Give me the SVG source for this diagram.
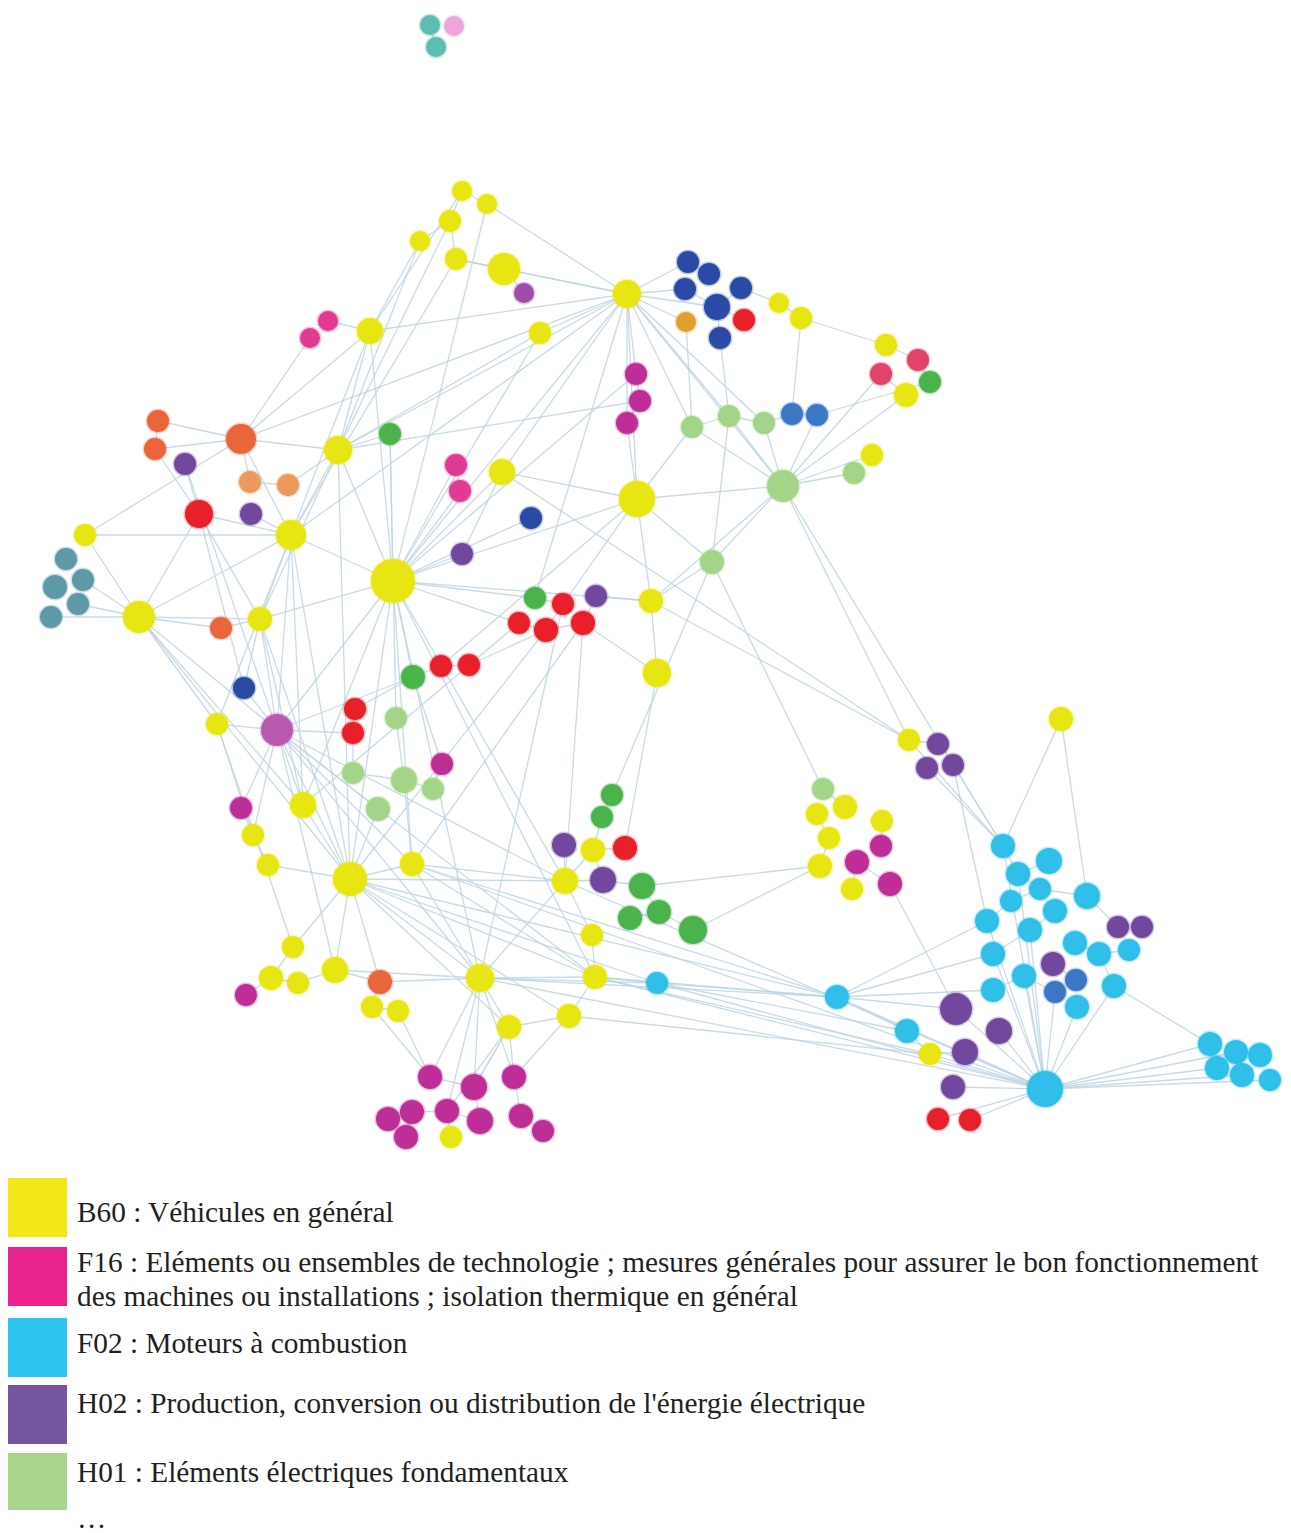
<svg xmlns="http://www.w3.org/2000/svg" width="1291" height="1533" viewBox="0 0 1291 1533">
<style>
.e{stroke:#bfd6e3;stroke-width:1.3;opacity:.85}
circle{stroke-width:3;stroke-opacity:.3}
.y{fill:#e8e612;stroke:#e8e612}
.m{fill:#bd2f96;stroke:#bd2f96}
.pk{fill:#e03a93;stroke:#e03a93}
.mL{fill:#b85aaf;stroke:#b85aaf}
.pm{fill:#9f4ea8;stroke:#9f4ea8}
.c{fill:#2fbfe8;stroke:#2fbfe8}
.p{fill:#72489e;stroke:#72489e}
.lg{fill:#a4d487;stroke:#a4d487}
.g{fill:#4bb34b;stroke:#4bb34b}
.r{fill:#e8202a;stroke:#e8202a}
.o{fill:#e8663a;stroke:#e8663a}
.ol{fill:#eb9a5c;stroke:#eb9a5c}
.ora{fill:#e0a030;stroke:#e0a030}
.db{fill:#2a4aa6;stroke:#2a4aa6}
.mb{fill:#3a78c6;stroke:#3a78c6}
.t{fill:#5e99a8;stroke:#5e99a8}
.tq{fill:#5dbdb0;stroke:#5dbdb0}
.lp{fill:#eaa8da;stroke:#eaa8da}
.pr{fill:#e2436a;stroke:#e2436a}
.lt{font-family:"Liberation Serif","Times New Roman",serif;font-size:29.3px;fill:#231f20}
</style>
<rect width="1291" height="1533" fill="#ffffff"/>
<g id="connectors">
<line class="e" x1="430" y1="25" x2="436" y2="47"/>
<line class="e" x1="462" y1="191" x2="487" y2="204"/>
<line class="e" x1="462" y1="191" x2="450" y2="221"/>
<line class="e" x1="487" y1="204" x2="627" y2="294"/>
<line class="e" x1="450" y1="221" x2="420" y2="241"/>
<line class="e" x1="450" y1="221" x2="456" y2="259"/>
<line class="e" x1="420" y1="241" x2="370" y2="331"/>
<line class="e" x1="456" y1="259" x2="504" y2="269"/>
<line class="e" x1="504" y1="269" x2="627" y2="294"/>
<line class="e" x1="456" y1="259" x2="627" y2="294"/>
<line class="e" x1="504" y1="269" x2="524" y2="293"/>
<line class="e" x1="420" y1="241" x2="338" y2="450"/>
<line class="e" x1="462" y1="191" x2="370" y2="331"/>
<line class="e" x1="450" y1="221" x2="338" y2="450"/>
<line class="e" x1="456" y1="259" x2="291" y2="535"/>
<line class="e" x1="487" y1="204" x2="393" y2="581"/>
<line class="e" x1="370" y1="331" x2="328" y2="321"/>
<line class="e" x1="370" y1="331" x2="627" y2="294"/>
<line class="e" x1="370" y1="331" x2="338" y2="450"/>
<line class="e" x1="370" y1="331" x2="241" y2="439"/>
<line class="e" x1="370" y1="331" x2="393" y2="581"/>
<line class="e" x1="370" y1="331" x2="291" y2="535"/>
<line class="e" x1="310" y1="338" x2="241" y2="439"/>
<line class="e" x1="540" y1="333" x2="627" y2="294"/>
<line class="e" x1="540" y1="333" x2="338" y2="450"/>
<line class="e" x1="540" y1="333" x2="393" y2="581"/>
<line class="e" x1="627" y1="294" x2="688" y2="262"/>
<line class="e" x1="627" y1="294" x2="685" y2="289"/>
<line class="e" x1="627" y1="294" x2="686" y2="322"/>
<line class="e" x1="627" y1="294" x2="717" y2="307"/>
<line class="e" x1="627" y1="294" x2="636" y2="374"/>
<line class="e" x1="627" y1="294" x2="627" y2="423"/>
<line class="e" x1="627" y1="294" x2="692" y2="427"/>
<line class="e" x1="627" y1="294" x2="729" y2="416"/>
<line class="e" x1="627" y1="294" x2="637" y2="499"/>
<line class="e" x1="627" y1="294" x2="783" y2="486"/>
<line class="e" x1="627" y1="294" x2="393" y2="581"/>
<line class="e" x1="627" y1="294" x2="338" y2="450"/>
<line class="e" x1="627" y1="294" x2="291" y2="535"/>
<line class="e" x1="627" y1="294" x2="502" y2="472"/>
<line class="e" x1="627" y1="294" x2="764" y2="423"/>
<line class="e" x1="627" y1="294" x2="535" y2="598"/>
<line class="e" x1="627" y1="294" x2="241" y2="439"/>
<line class="e" x1="709" y1="274" x2="688" y2="262"/>
<line class="e" x1="685" y1="289" x2="717" y2="307"/>
<line class="e" x1="741" y1="288" x2="717" y2="307"/>
<line class="e" x1="717" y1="307" x2="720" y2="338"/>
<line class="e" x1="744" y1="320" x2="717" y2="307"/>
<line class="e" x1="741" y1="288" x2="779" y2="303"/>
<line class="e" x1="779" y1="303" x2="801" y2="318"/>
<line class="e" x1="801" y1="318" x2="886" y2="345"/>
<line class="e" x1="801" y1="318" x2="792" y2="414"/>
<line class="e" x1="720" y1="338" x2="729" y2="416"/>
<line class="e" x1="686" y1="322" x2="692" y2="427"/>
<line class="e" x1="886" y1="345" x2="918" y2="360"/>
<line class="e" x1="881" y1="374" x2="906" y2="395"/>
<line class="e" x1="918" y1="360" x2="930" y2="382"/>
<line class="e" x1="906" y1="395" x2="783" y2="486"/>
<line class="e" x1="881" y1="374" x2="783" y2="486"/>
<line class="e" x1="930" y1="382" x2="817" y2="415"/>
<line class="e" x1="636" y1="374" x2="640" y2="401"/>
<line class="e" x1="640" y1="401" x2="627" y2="423"/>
<line class="e" x1="627" y1="423" x2="637" y2="499"/>
<line class="e" x1="640" y1="401" x2="338" y2="450"/>
<line class="e" x1="636" y1="374" x2="393" y2="581"/>
<line class="e" x1="692" y1="427" x2="729" y2="416"/>
<line class="e" x1="729" y1="416" x2="764" y2="423"/>
<line class="e" x1="764" y1="423" x2="792" y2="414"/>
<line class="e" x1="792" y1="414" x2="817" y2="415"/>
<line class="e" x1="692" y1="427" x2="783" y2="486"/>
<line class="e" x1="729" y1="416" x2="783" y2="486"/>
<line class="e" x1="764" y1="423" x2="783" y2="486"/>
<line class="e" x1="817" y1="415" x2="783" y2="486"/>
<line class="e" x1="872" y1="455" x2="783" y2="486"/>
<line class="e" x1="854" y1="473" x2="783" y2="486"/>
<line class="e" x1="729" y1="416" x2="712" y2="562"/>
<line class="e" x1="692" y1="427" x2="637" y2="499"/>
<line class="e" x1="783" y1="486" x2="637" y2="499"/>
<line class="e" x1="783" y1="486" x2="712" y2="562"/>
<line class="e" x1="783" y1="486" x2="909" y2="740"/>
<line class="e" x1="783" y1="486" x2="1003" y2="846"/>
<line class="e" x1="783" y1="486" x2="651" y2="601"/>
<line class="e" x1="712" y1="562" x2="651" y2="601"/>
<line class="e" x1="712" y1="562" x2="637" y2="499"/>
<line class="e" x1="712" y1="562" x2="612" y2="795"/>
<line class="e" x1="712" y1="562" x2="823" y2="789"/>
<line class="e" x1="637" y1="499" x2="651" y2="601"/>
<line class="e" x1="637" y1="499" x2="563" y2="604"/>
<line class="e" x1="637" y1="499" x2="393" y2="581"/>
<line class="e" x1="637" y1="499" x2="441" y2="666"/>
<line class="e" x1="637" y1="499" x2="502" y2="472"/>
<line class="e" x1="651" y1="601" x2="596" y2="596"/>
<line class="e" x1="651" y1="601" x2="657" y2="673"/>
<line class="e" x1="651" y1="601" x2="909" y2="740"/>
<line class="e" x1="651" y1="601" x2="393" y2="581"/>
<line class="e" x1="657" y1="673" x2="583" y2="623"/>
<line class="e" x1="657" y1="673" x2="625" y2="848"/>
<line class="e" x1="502" y1="472" x2="909" y2="740"/>
<line class="e" x1="1061" y1="719" x2="1003" y2="846"/>
<line class="e" x1="1061" y1="719" x2="1087" y2="896"/>
<line class="e" x1="909" y1="740" x2="938" y2="744"/>
<line class="e" x1="927" y1="768" x2="1003" y2="846"/>
<line class="e" x1="953" y1="765" x2="1003" y2="846"/>
<line class="e" x1="158" y1="421" x2="155" y2="449"/>
<line class="e" x1="155" y1="449" x2="241" y2="439"/>
<line class="e" x1="241" y1="439" x2="338" y2="450"/>
<line class="e" x1="241" y1="439" x2="291" y2="535"/>
<line class="e" x1="241" y1="439" x2="250" y2="482"/>
<line class="e" x1="185" y1="464" x2="199" y2="514"/>
<line class="e" x1="155" y1="449" x2="199" y2="514"/>
<line class="e" x1="158" y1="421" x2="241" y2="439"/>
<line class="e" x1="250" y1="482" x2="288" y2="485"/>
<line class="e" x1="288" y1="485" x2="338" y2="450"/>
<line class="e" x1="199" y1="514" x2="291" y2="535"/>
<line class="e" x1="251" y1="514" x2="291" y2="535"/>
<line class="e" x1="199" y1="514" x2="260" y2="619"/>
<line class="e" x1="199" y1="514" x2="244" y2="688"/>
<line class="e" x1="185" y1="464" x2="277" y2="730"/>
<line class="e" x1="338" y1="450" x2="390" y2="434"/>
<line class="e" x1="338" y1="450" x2="291" y2="535"/>
<line class="e" x1="338" y1="450" x2="393" y2="581"/>
<line class="e" x1="338" y1="450" x2="260" y2="619"/>
<line class="e" x1="338" y1="450" x2="350" y2="879"/>
<line class="e" x1="390" y1="434" x2="393" y2="581"/>
<line class="e" x1="390" y1="434" x2="396" y2="718"/>
<line class="e" x1="85" y1="535" x2="139" y2="617"/>
<line class="e" x1="85" y1="535" x2="291" y2="535"/>
<line class="e" x1="85" y1="535" x2="241" y2="439"/>
<line class="e" x1="83" y1="580" x2="139" y2="617"/>
<line class="e" x1="78" y1="604" x2="139" y2="617"/>
<line class="e" x1="51" y1="617" x2="139" y2="617"/>
<line class="e" x1="139" y1="617" x2="221" y2="628"/>
<line class="e" x1="139" y1="617" x2="260" y2="619"/>
<line class="e" x1="139" y1="617" x2="291" y2="535"/>
<line class="e" x1="139" y1="617" x2="217" y2="724"/>
<line class="e" x1="139" y1="617" x2="277" y2="730"/>
<line class="e" x1="139" y1="617" x2="303" y2="805"/>
<line class="e" x1="139" y1="617" x2="350" y2="879"/>
<line class="e" x1="139" y1="617" x2="199" y2="514"/>
<line class="e" x1="221" y1="628" x2="260" y2="619"/>
<line class="e" x1="260" y1="619" x2="291" y2="535"/>
<line class="e" x1="260" y1="619" x2="393" y2="581"/>
<line class="e" x1="260" y1="619" x2="277" y2="730"/>
<line class="e" x1="260" y1="619" x2="350" y2="879"/>
<line class="e" x1="260" y1="619" x2="244" y2="688"/>
<line class="e" x1="260" y1="619" x2="303" y2="805"/>
<line class="e" x1="291" y1="535" x2="393" y2="581"/>
<line class="e" x1="291" y1="535" x2="277" y2="730"/>
<line class="e" x1="291" y1="535" x2="303" y2="805"/>
<line class="e" x1="291" y1="535" x2="350" y2="879"/>
<line class="e" x1="291" y1="535" x2="217" y2="724"/>
<line class="e" x1="393" y1="581" x2="456" y2="465"/>
<line class="e" x1="393" y1="581" x2="462" y2="554"/>
<line class="e" x1="393" y1="581" x2="535" y2="598"/>
<line class="e" x1="393" y1="581" x2="519" y2="623"/>
<line class="e" x1="393" y1="581" x2="413" y2="677"/>
<line class="e" x1="393" y1="581" x2="350" y2="879"/>
<line class="e" x1="393" y1="581" x2="480" y2="978"/>
<line class="e" x1="393" y1="581" x2="565" y2="881"/>
<line class="e" x1="393" y1="581" x2="277" y2="730"/>
<line class="e" x1="393" y1="581" x2="303" y2="805"/>
<line class="e" x1="393" y1="581" x2="412" y2="864"/>
<line class="e" x1="393" y1="581" x2="502" y2="472"/>
<line class="e" x1="393" y1="581" x2="531" y2="518"/>
<line class="e" x1="393" y1="581" x2="595" y2="977"/>
<line class="e" x1="456" y1="465" x2="460" y2="491"/>
<line class="e" x1="460" y1="491" x2="393" y2="581"/>
<line class="e" x1="502" y1="472" x2="462" y2="554"/>
<line class="e" x1="535" y1="598" x2="563" y2="604"/>
<line class="e" x1="563" y1="604" x2="546" y2="630"/>
<line class="e" x1="519" y1="623" x2="546" y2="630"/>
<line class="e" x1="546" y1="630" x2="583" y2="623"/>
<line class="e" x1="583" y1="623" x2="596" y2="596"/>
<line class="e" x1="441" y1="666" x2="469" y2="665"/>
<line class="e" x1="413" y1="677" x2="441" y2="666"/>
<line class="e" x1="469" y1="665" x2="546" y2="630"/>
<line class="e" x1="546" y1="630" x2="350" y2="879"/>
<line class="e" x1="583" y1="623" x2="412" y2="864"/>
<line class="e" x1="519" y1="623" x2="303" y2="805"/>
<line class="e" x1="563" y1="604" x2="480" y2="978"/>
<line class="e" x1="583" y1="623" x2="565" y2="881"/>
<line class="e" x1="413" y1="677" x2="355" y2="709"/>
<line class="e" x1="355" y1="709" x2="353" y2="733"/>
<line class="e" x1="353" y1="733" x2="277" y2="730"/>
<line class="e" x1="396" y1="718" x2="404" y2="780"/>
<line class="e" x1="353" y1="733" x2="353" y2="773"/>
<line class="e" x1="244" y1="688" x2="277" y2="730"/>
<line class="e" x1="217" y1="724" x2="277" y2="730"/>
<line class="e" x1="277" y1="730" x2="303" y2="805"/>
<line class="e" x1="277" y1="730" x2="350" y2="879"/>
<line class="e" x1="277" y1="730" x2="412" y2="864"/>
<line class="e" x1="277" y1="730" x2="480" y2="978"/>
<line class="e" x1="277" y1="730" x2="565" y2="881"/>
<line class="e" x1="277" y1="730" x2="378" y2="809"/>
<line class="e" x1="277" y1="730" x2="241" y2="808"/>
<line class="e" x1="277" y1="730" x2="253" y2="835"/>
<line class="e" x1="277" y1="730" x2="595" y2="977"/>
<line class="e" x1="277" y1="730" x2="335" y2="970"/>
<line class="e" x1="277" y1="730" x2="413" y2="677"/>
<line class="e" x1="353" y1="773" x2="404" y2="780"/>
<line class="e" x1="404" y1="780" x2="433" y2="789"/>
<line class="e" x1="378" y1="809" x2="350" y2="879"/>
<line class="e" x1="404" y1="780" x2="412" y2="864"/>
<line class="e" x1="442" y1="764" x2="433" y2="789"/>
<line class="e" x1="442" y1="764" x2="413" y2="677"/>
<line class="e" x1="241" y1="808" x2="253" y2="835"/>
<line class="e" x1="253" y1="835" x2="268" y2="865"/>
<line class="e" x1="268" y1="865" x2="350" y2="879"/>
<line class="e" x1="303" y1="805" x2="350" y2="879"/>
<line class="e" x1="217" y1="724" x2="253" y2="835"/>
<line class="e" x1="217" y1="724" x2="293" y2="947"/>
<line class="e" x1="350" y1="879" x2="412" y2="864"/>
<line class="e" x1="350" y1="879" x2="480" y2="978"/>
<line class="e" x1="350" y1="879" x2="293" y2="947"/>
<line class="e" x1="350" y1="879" x2="335" y2="970"/>
<line class="e" x1="350" y1="879" x2="565" y2="881"/>
<line class="e" x1="350" y1="879" x2="595" y2="977"/>
<line class="e" x1="350" y1="879" x2="657" y2="983"/>
<line class="e" x1="350" y1="879" x2="837" y2="997"/>
<line class="e" x1="350" y1="879" x2="380" y2="982"/>
<line class="e" x1="350" y1="879" x2="509" y2="1027"/>
<line class="e" x1="350" y1="879" x2="569" y2="1016"/>
<line class="e" x1="412" y1="864" x2="565" y2="881"/>
<line class="e" x1="412" y1="864" x2="480" y2="978"/>
<line class="e" x1="412" y1="864" x2="595" y2="977"/>
<line class="e" x1="412" y1="864" x2="837" y2="997"/>
<line class="e" x1="412" y1="864" x2="1045" y2="1089"/>
<line class="e" x1="293" y1="947" x2="271" y2="978"/>
<line class="e" x1="271" y1="978" x2="298" y2="983"/>
<line class="e" x1="246" y1="995" x2="271" y2="978"/>
<line class="e" x1="298" y1="983" x2="335" y2="970"/>
<line class="e" x1="335" y1="970" x2="380" y2="982"/>
<line class="e" x1="380" y1="982" x2="372" y2="1007"/>
<line class="e" x1="372" y1="1007" x2="398" y2="1011"/>
<line class="e" x1="335" y1="970" x2="480" y2="978"/>
<line class="e" x1="380" y1="982" x2="480" y2="978"/>
<line class="e" x1="480" y1="978" x2="509" y2="1027"/>
<line class="e" x1="480" y1="978" x2="595" y2="977"/>
<line class="e" x1="480" y1="978" x2="565" y2="881"/>
<line class="e" x1="480" y1="978" x2="474" y2="1087"/>
<line class="e" x1="480" y1="978" x2="447" y2="1111"/>
<line class="e" x1="480" y1="978" x2="430" y2="1077"/>
<line class="e" x1="480" y1="978" x2="514" y2="1077"/>
<line class="e" x1="480" y1="978" x2="657" y2="983"/>
<line class="e" x1="480" y1="978" x2="837" y2="997"/>
<line class="e" x1="480" y1="978" x2="1045" y2="1089"/>
<line class="e" x1="509" y1="1027" x2="569" y2="1016"/>
<line class="e" x1="509" y1="1027" x2="474" y2="1087"/>
<line class="e" x1="569" y1="1016" x2="595" y2="977"/>
<line class="e" x1="569" y1="1016" x2="514" y2="1077"/>
<line class="e" x1="569" y1="1016" x2="930" y2="1054"/>
<line class="e" x1="398" y1="1011" x2="430" y2="1077"/>
<line class="e" x1="595" y1="977" x2="592" y2="935"/>
<line class="e" x1="592" y1="935" x2="565" y2="881"/>
<line class="e" x1="595" y1="977" x2="657" y2="983"/>
<line class="e" x1="595" y1="977" x2="837" y2="997"/>
<line class="e" x1="595" y1="977" x2="1045" y2="1089"/>
<line class="e" x1="595" y1="977" x2="930" y2="1054"/>
<line class="e" x1="565" y1="881" x2="593" y2="850"/>
<line class="e" x1="565" y1="881" x2="564" y2="845"/>
<line class="e" x1="565" y1="881" x2="603" y2="880"/>
<line class="e" x1="565" y1="881" x2="1045" y2="1089"/>
<line class="e" x1="593" y1="850" x2="625" y2="848"/>
<line class="e" x1="593" y1="850" x2="603" y2="880"/>
<line class="e" x1="603" y1="880" x2="642" y2="886"/>
<line class="e" x1="642" y1="886" x2="659" y2="912"/>
<line class="e" x1="630" y1="918" x2="659" y2="912"/>
<line class="e" x1="659" y1="912" x2="693" y2="930"/>
<line class="e" x1="612" y1="795" x2="602" y2="817"/>
<line class="e" x1="602" y1="817" x2="593" y2="850"/>
<line class="e" x1="642" y1="886" x2="820" y2="866"/>
<line class="e" x1="693" y1="930" x2="820" y2="866"/>
<line class="e" x1="657" y1="983" x2="837" y2="997"/>
<line class="e" x1="657" y1="983" x2="907" y2="1031"/>
<line class="e" x1="657" y1="983" x2="1045" y2="1089"/>
<line class="e" x1="837" y1="997" x2="993" y2="990"/>
<line class="e" x1="837" y1="997" x2="987" y2="921"/>
<line class="e" x1="837" y1="997" x2="907" y2="1031"/>
<line class="e" x1="837" y1="997" x2="1045" y2="1089"/>
<line class="e" x1="837" y1="997" x2="956" y2="1009"/>
<line class="e" x1="837" y1="997" x2="993" y2="954"/>
<line class="e" x1="890" y1="884" x2="956" y2="1009"/>
<line class="e" x1="907" y1="1031" x2="930" y2="1054"/>
<line class="e" x1="930" y1="1054" x2="965" y2="1052"/>
<line class="e" x1="930" y1="1054" x2="1045" y2="1089"/>
<line class="e" x1="956" y1="1009" x2="1045" y2="1089"/>
<line class="e" x1="999" y1="1031" x2="1045" y2="1089"/>
<line class="e" x1="965" y1="1052" x2="1045" y2="1089"/>
<line class="e" x1="953" y1="1087" x2="1045" y2="1089"/>
<line class="e" x1="938" y1="1119" x2="1045" y2="1089"/>
<line class="e" x1="970" y1="1120" x2="1045" y2="1089"/>
<line class="e" x1="1045" y1="1089" x2="1003" y2="846"/>
<line class="e" x1="1045" y1="1089" x2="1018" y2="874"/>
<line class="e" x1="1045" y1="1089" x2="987" y2="921"/>
<line class="e" x1="1045" y1="1089" x2="993" y2="954"/>
<line class="e" x1="1045" y1="1089" x2="1024" y2="976"/>
<line class="e" x1="1045" y1="1089" x2="1055" y2="992"/>
<line class="e" x1="1045" y1="1089" x2="1077" y2="1007"/>
<line class="e" x1="1045" y1="1089" x2="1030" y2="930"/>
<line class="e" x1="1045" y1="1089" x2="1210" y2="1044"/>
<line class="e" x1="1045" y1="1089" x2="1217" y2="1068"/>
<line class="e" x1="1045" y1="1089" x2="1242" y2="1075"/>
<line class="e" x1="1045" y1="1089" x2="1270" y2="1080"/>
<line class="e" x1="1045" y1="1089" x2="1236" y2="1052"/>
<line class="e" x1="1045" y1="1089" x2="1114" y2="986"/>
<line class="e" x1="1114" y1="986" x2="1210" y2="1044"/>
<line class="e" x1="1003" y1="846" x2="1018" y2="874"/>
<line class="e" x1="1049" y1="861" x2="1018" y2="874"/>
<line class="e" x1="1018" y1="874" x2="1040" y2="889"/>
<line class="e" x1="1040" y1="889" x2="1087" y2="896"/>
<line class="e" x1="1011" y1="901" x2="1040" y2="889"/>
<line class="e" x1="1011" y1="901" x2="987" y2="921"/>
<line class="e" x1="1055" y1="911" x2="1030" y2="930"/>
<line class="e" x1="1030" y1="930" x2="993" y2="954"/>
<line class="e" x1="1075" y1="943" x2="1099" y2="954"/>
<line class="e" x1="1099" y1="954" x2="1129" y2="950"/>
<line class="e" x1="1053" y1="964" x2="1076" y2="980"/>
<line class="e" x1="1024" y1="976" x2="1055" y2="992"/>
<line class="e" x1="993" y1="990" x2="1024" y2="976"/>
<line class="e" x1="1114" y1="986" x2="1099" y2="954"/>
<line class="e" x1="1087" y1="896" x2="1118" y2="927"/>
<line class="e" x1="909" y1="740" x2="1003" y2="846"/>
<line class="e" x1="953" y1="765" x2="987" y2="921"/>
<line class="e" x1="823" y1="789" x2="845" y2="807"/>
<line class="e" x1="817" y1="814" x2="829" y2="838"/>
<line class="e" x1="829" y1="838" x2="820" y2="866"/>
<line class="e" x1="882" y1="821" x2="881" y2="846"/>
<line class="e" x1="857" y1="862" x2="852" y2="889"/>
<line class="e" x1="857" y1="862" x2="890" y2="884"/>
<line class="e" x1="430" y1="1077" x2="474" y2="1087"/>
<line class="e" x1="388" y1="1119" x2="412" y2="1112"/>
<line class="e" x1="412" y1="1112" x2="406" y2="1137"/>
<line class="e" x1="447" y1="1111" x2="480" y2="1121"/>
<line class="e" x1="474" y1="1087" x2="480" y2="1121"/>
<line class="e" x1="514" y1="1077" x2="521" y2="1116"/>
<line class="e" x1="521" y1="1116" x2="543" y2="1131"/>
<line class="e" x1="451" y1="1137" x2="447" y2="1111"/>
<line class="e" x1="430" y1="1077" x2="372" y2="1007"/>
<line class="e" x1="474" y1="1087" x2="509" y2="1027"/>
<line class="e" x1="447" y1="1111" x2="509" y2="1027"/>
<line class="e" x1="514" y1="1077" x2="509" y2="1027"/>
<line class="e" x1="412" y1="1112" x2="447" y2="1111"/>
</g>
<g id="nodes">
<g id="n1"><circle class="tq" cx="430" cy="25" r="10"/></g>
<g id="n2"><circle class="lp" cx="454" cy="26" r="10"/></g>
<g id="n3"><circle class="tq" cx="436" cy="47" r="10"/></g>
<g id="n4"><circle class="y" cx="462" cy="191" r="10"/></g>
<g id="n5"><circle class="y" cx="487" cy="204" r="10"/></g>
<g id="n6"><circle class="y" cx="450" cy="221" r="11"/></g>
<g id="n7"><circle class="y" cx="420" cy="241" r="10"/></g>
<g id="n8"><circle class="y" cx="456" cy="259" r="11"/></g>
<g id="n9"><circle class="y" cx="504" cy="269" r="16"/></g>
<g id="n10"><circle class="pm" cx="524" cy="293" r="10"/></g>
<g id="n11"><circle class="y" cx="540" cy="333" r="11"/></g>
<g id="n12"><circle class="y" cx="370" cy="331" r="13"/></g>
<g id="n13"><circle class="pk" cx="328" cy="321" r="10"/></g>
<g id="n14"><circle class="pk" cx="310" cy="338" r="10"/></g>
<g id="n15"><circle class="y" cx="627" cy="294" r="14"/></g>
<g id="n16"><circle class="db" cx="688" cy="262" r="11"/></g>
<g id="n17"><circle class="db" cx="709" cy="274" r="11"/></g>
<g id="n18"><circle class="db" cx="685" cy="289" r="11"/></g>
<g id="n19"><circle class="db" cx="741" cy="288" r="11"/></g>
<g id="n20"><circle class="db" cx="717" cy="307" r="13"/></g>
<g id="n21"><circle class="db" cx="720" cy="338" r="11"/></g>
<g id="n22"><circle class="ora" cx="686" cy="322" r="10"/></g>
<g id="n23"><circle class="r" cx="744" cy="320" r="11"/></g>
<g id="n24"><circle class="y" cx="779" cy="303" r="10"/></g>
<g id="n25"><circle class="y" cx="801" cy="318" r="11"/></g>
<g id="n26"><circle class="y" cx="886" cy="345" r="11"/></g>
<g id="n27"><circle class="pr" cx="918" cy="360" r="11"/></g>
<g id="n28"><circle class="pr" cx="881" cy="374" r="11"/></g>
<g id="n29"><circle class="g" cx="930" cy="382" r="11"/></g>
<g id="n30"><circle class="y" cx="906" cy="395" r="12"/></g>
<g id="n31"><circle class="m" cx="636" cy="374" r="11"/></g>
<g id="n32"><circle class="m" cx="640" cy="401" r="11"/></g>
<g id="n33"><circle class="m" cx="627" cy="423" r="11"/></g>
<g id="n34"><circle class="lg" cx="692" cy="427" r="11"/></g>
<g id="n35"><circle class="lg" cx="729" cy="416" r="11"/></g>
<g id="n36"><circle class="lg" cx="764" cy="423" r="11"/></g>
<g id="n37"><circle class="mb" cx="792" cy="414" r="11"/></g>
<g id="n38"><circle class="mb" cx="817" cy="415" r="11"/></g>
<g id="n39"><circle class="y" cx="872" cy="455" r="11"/></g>
<g id="n40"><circle class="lg" cx="854" cy="473" r="11"/></g>
<g id="n41"><circle class="lg" cx="783" cy="486" r="16"/></g>
<g id="n42"><circle class="y" cx="637" cy="499" r="18"/></g>
<g id="n43"><circle class="lg" cx="712" cy="562" r="12"/></g>
<g id="n44"><circle class="y" cx="651" cy="601" r="12"/></g>
<g id="n45"><circle class="y" cx="657" cy="673" r="14"/></g>
<g id="n46"><circle class="o" cx="158" cy="421" r="11"/></g>
<g id="n47"><circle class="o" cx="155" cy="449" r="11"/></g>
<g id="n48"><circle class="o" cx="241" cy="439" r="15"/></g>
<g id="n49"><circle class="p" cx="185" cy="464" r="11"/></g>
<g id="n50"><circle class="ol" cx="250" cy="482" r="11"/></g>
<g id="n51"><circle class="ol" cx="288" cy="485" r="11"/></g>
<g id="n52"><circle class="y" cx="338" cy="450" r="14"/></g>
<g id="n53"><circle class="g" cx="390" cy="434" r="11"/></g>
<g id="n54"><circle class="r" cx="199" cy="514" r="14"/></g>
<g id="n55"><circle class="p" cx="251" cy="514" r="11"/></g>
<g id="n56"><circle class="y" cx="291" cy="535" r="15"/></g>
<g id="n57"><circle class="y" cx="85" cy="535" r="11"/></g>
<g id="n58"><circle class="t" cx="66" cy="559" r="11"/></g>
<g id="n59"><circle class="t" cx="83" cy="580" r="11"/></g>
<g id="n60"><circle class="t" cx="55" cy="587" r="12"/></g>
<g id="n61"><circle class="t" cx="78" cy="604" r="11"/></g>
<g id="n62"><circle class="t" cx="51" cy="617" r="11"/></g>
<g id="n63"><circle class="y" cx="139" cy="617" r="16"/></g>
<g id="n64"><circle class="o" cx="221" cy="628" r="11"/></g>
<g id="n65"><circle class="y" cx="260" cy="619" r="12"/></g>
<g id="n66"><circle class="y" cx="393" cy="581" r="22"/></g>
<g id="n67"><circle class="pk" cx="456" cy="465" r="11"/></g>
<g id="n68"><circle class="pk" cx="460" cy="491" r="11"/></g>
<g id="n69"><circle class="y" cx="502" cy="472" r="13"/></g>
<g id="n70"><circle class="db" cx="531" cy="518" r="11"/></g>
<g id="n71"><circle class="p" cx="462" cy="554" r="11"/></g>
<g id="n72"><circle class="g" cx="535" cy="598" r="11"/></g>
<g id="n73"><circle class="r" cx="563" cy="604" r="11"/></g>
<g id="n74"><circle class="p" cx="596" cy="596" r="11"/></g>
<g id="n75"><circle class="r" cx="519" cy="623" r="11"/></g>
<g id="n76"><circle class="r" cx="546" cy="630" r="12"/></g>
<g id="n77"><circle class="r" cx="583" cy="623" r="12"/></g>
<g id="n78"><circle class="g" cx="413" cy="677" r="12"/></g>
<g id="n79"><circle class="r" cx="441" cy="666" r="11"/></g>
<g id="n80"><circle class="r" cx="469" cy="665" r="11"/></g>
<g id="n81"><circle class="db" cx="244" cy="688" r="11"/></g>
<g id="n82"><circle class="y" cx="217" cy="724" r="11"/></g>
<g id="n83"><circle class="mL" cx="277" cy="730" r="16"/></g>
<g id="n84"><circle class="r" cx="355" cy="709" r="11"/></g>
<g id="n85"><circle class="r" cx="353" cy="733" r="11"/></g>
<g id="n86"><circle class="lg" cx="396" cy="718" r="11"/></g>
<g id="n87"><circle class="lg" cx="353" cy="773" r="11"/></g>
<g id="n88"><circle class="lg" cx="404" cy="780" r="13"/></g>
<g id="n89"><circle class="lg" cx="433" cy="789" r="11"/></g>
<g id="n90"><circle class="lg" cx="378" cy="809" r="12"/></g>
<g id="n91"><circle class="m" cx="442" cy="764" r="11"/></g>
<g id="n92"><circle class="m" cx="241" cy="808" r="11"/></g>
<g id="n93"><circle class="y" cx="303" cy="805" r="13"/></g>
<g id="n94"><circle class="y" cx="253" cy="835" r="11"/></g>
<g id="n95"><circle class="y" cx="268" cy="865" r="11"/></g>
<g id="n96"><circle class="y" cx="350" cy="879" r="17"/></g>
<g id="n97"><circle class="y" cx="412" cy="864" r="12"/></g>
<g id="n98"><circle class="y" cx="293" cy="947" r="11"/></g>
<g id="n99"><circle class="y" cx="271" cy="978" r="12"/></g>
<g id="n100"><circle class="y" cx="298" cy="983" r="11"/></g>
<g id="n101"><circle class="m" cx="246" cy="995" r="11"/></g>
<g id="n102"><circle class="y" cx="335" cy="970" r="13"/></g>
<g id="n103"><circle class="o" cx="380" cy="982" r="12"/></g>
<g id="n104"><circle class="y" cx="372" cy="1007" r="11"/></g>
<g id="n105"><circle class="y" cx="398" cy="1011" r="11"/></g>
<g id="n106"><circle class="y" cx="480" cy="978" r="14"/></g>
<g id="n107"><circle class="y" cx="509" cy="1027" r="12"/></g>
<g id="n108"><circle class="y" cx="569" cy="1016" r="12"/></g>
<g id="n109"><circle class="y" cx="595" cy="977" r="12"/></g>
<g id="n110"><circle class="y" cx="592" cy="935" r="11"/></g>
<g id="n111"><circle class="y" cx="565" cy="881" r="13"/></g>
<g id="n112"><circle class="m" cx="430" cy="1077" r="12"/></g>
<g id="n113"><circle class="m" cx="474" cy="1087" r="13"/></g>
<g id="n114"><circle class="m" cx="514" cy="1077" r="12"/></g>
<g id="n115"><circle class="m" cx="388" cy="1119" r="12"/></g>
<g id="n116"><circle class="m" cx="412" cy="1112" r="12"/></g>
<g id="n117"><circle class="m" cx="447" cy="1111" r="12"/></g>
<g id="n118"><circle class="m" cx="480" cy="1121" r="13"/></g>
<g id="n119"><circle class="m" cx="521" cy="1116" r="12"/></g>
<g id="n120"><circle class="m" cx="543" cy="1131" r="11"/></g>
<g id="n121"><circle class="m" cx="406" cy="1137" r="12"/></g>
<g id="n122"><circle class="y" cx="451" cy="1137" r="11"/></g>
<g id="n123"><circle class="g" cx="612" cy="795" r="11"/></g>
<g id="n124"><circle class="g" cx="602" cy="817" r="11"/></g>
<g id="n125"><circle class="p" cx="564" cy="845" r="12"/></g>
<g id="n126"><circle class="y" cx="593" cy="850" r="12"/></g>
<g id="n127"><circle class="r" cx="625" cy="848" r="12"/></g>
<g id="n128"><circle class="p" cx="603" cy="880" r="13"/></g>
<g id="n129"><circle class="g" cx="642" cy="886" r="13"/></g>
<g id="n130"><circle class="g" cx="630" cy="918" r="12"/></g>
<g id="n131"><circle class="g" cx="659" cy="912" r="12"/></g>
<g id="n132"><circle class="g" cx="693" cy="930" r="14"/></g>
<g id="n133"><circle class="c" cx="657" cy="983" r="11"/></g>
<g id="n134"><circle class="lg" cx="823" cy="789" r="11"/></g>
<g id="n135"><circle class="y" cx="845" cy="807" r="12"/></g>
<g id="n136"><circle class="y" cx="817" cy="814" r="11"/></g>
<g id="n137"><circle class="y" cx="882" cy="821" r="11"/></g>
<g id="n138"><circle class="y" cx="829" cy="838" r="11"/></g>
<g id="n139"><circle class="m" cx="881" cy="846" r="11"/></g>
<g id="n140"><circle class="m" cx="857" cy="862" r="12"/></g>
<g id="n141"><circle class="y" cx="820" cy="866" r="12"/></g>
<g id="n142"><circle class="y" cx="852" cy="889" r="11"/></g>
<g id="n143"><circle class="m" cx="890" cy="884" r="12"/></g>
<g id="n144"><circle class="y" cx="1061" cy="719" r="12"/></g>
<g id="n145"><circle class="y" cx="909" cy="740" r="11"/></g>
<g id="n146"><circle class="p" cx="938" cy="744" r="11"/></g>
<g id="n147"><circle class="p" cx="927" cy="768" r="11"/></g>
<g id="n148"><circle class="p" cx="953" cy="765" r="11"/></g>
<g id="n149"><circle class="c" cx="1003" cy="846" r="12"/></g>
<g id="n150"><circle class="c" cx="1049" cy="861" r="13"/></g>
<g id="n151"><circle class="c" cx="1018" cy="874" r="12"/></g>
<g id="n152"><circle class="c" cx="1040" cy="889" r="11"/></g>
<g id="n153"><circle class="c" cx="1087" cy="896" r="13"/></g>
<g id="n154"><circle class="c" cx="1011" cy="901" r="11"/></g>
<g id="n155"><circle class="c" cx="987" cy="921" r="12"/></g>
<g id="n156"><circle class="c" cx="1055" cy="911" r="12"/></g>
<g id="n157"><circle class="c" cx="1030" cy="930" r="12"/></g>
<g id="n158"><circle class="p" cx="1118" cy="927" r="11"/></g>
<g id="n159"><circle class="p" cx="1142" cy="927" r="11"/></g>
<g id="n160"><circle class="c" cx="993" cy="954" r="12"/></g>
<g id="n161"><circle class="c" cx="1075" cy="943" r="12"/></g>
<g id="n162"><circle class="c" cx="1099" cy="954" r="12"/></g>
<g id="n163"><circle class="c" cx="1129" cy="950" r="11"/></g>
<g id="n164"><circle class="p" cx="1053" cy="964" r="12"/></g>
<g id="n165"><circle class="c" cx="1024" cy="976" r="12"/></g>
<g id="n166"><circle class="mb" cx="1076" cy="980" r="11"/></g>
<g id="n167"><circle class="mb" cx="1055" cy="992" r="11"/></g>
<g id="n168"><circle class="c" cx="993" cy="990" r="12"/></g>
<g id="n169"><circle class="c" cx="1114" cy="986" r="12"/></g>
<g id="n170"><circle class="c" cx="1077" cy="1007" r="12"/></g>
<g id="n171"><circle class="c" cx="837" cy="997" r="12"/></g>
<g id="n172"><circle class="p" cx="956" cy="1009" r="16"/></g>
<g id="n173"><circle class="p" cx="999" cy="1031" r="13"/></g>
<g id="n174"><circle class="c" cx="907" cy="1031" r="12"/></g>
<g id="n175"><circle class="y" cx="930" cy="1054" r="11"/></g>
<g id="n176"><circle class="p" cx="965" cy="1052" r="13"/></g>
<g id="n177"><circle class="p" cx="953" cy="1087" r="12"/></g>
<g id="n178"><circle class="c" cx="1045" cy="1089" r="18"/></g>
<g id="n179"><circle class="r" cx="938" cy="1119" r="11"/></g>
<g id="n180"><circle class="r" cx="970" cy="1120" r="11"/></g>
<g id="n181"><circle class="c" cx="1210" cy="1044" r="12"/></g>
<g id="n182"><circle class="c" cx="1236" cy="1052" r="12"/></g>
<g id="n183"><circle class="c" cx="1260" cy="1055" r="12"/></g>
<g id="n184"><circle class="c" cx="1217" cy="1068" r="12"/></g>
<g id="n185"><circle class="c" cx="1242" cy="1075" r="12"/></g>
<g id="n186"><circle class="c" cx="1270" cy="1080" r="11"/></g>
</g>
<g id="legend">
<rect x="8" y="1178" width="59" height="59" fill="#f2e817"/>
<rect x="8" y="1247" width="59" height="59" fill="#e9238e"/>
<rect x="8" y="1318" width="59" height="59" fill="#2ec4f0"/>
<rect x="8" y="1385" width="59" height="59" fill="#7554a0"/>
<rect x="8" y="1453" width="59" height="57" fill="#a9d68a"/>
<text class="lt" x="77" y="1222">B60 : Véhicules en général</text>
<text class="lt" x="77" y="1272">F16 : Eléments ou ensembles de technologie ; mesures générales pour assurer le bon fonctionnement</text>
<text class="lt" x="77" y="1306">des machines ou installations ; isolation thermique en général</text>
<text class="lt" x="77" y="1353">F02 : Moteurs à combustion</text>
<text class="lt" x="77" y="1413">H02 : Production, conversion ou distribution de l'énergie électrique</text>
<text class="lt" x="77" y="1482">H01 : Eléments électriques fondamentaux</text>
<text class="lt" x="77" y="1528">…</text>
</g>
</svg>
